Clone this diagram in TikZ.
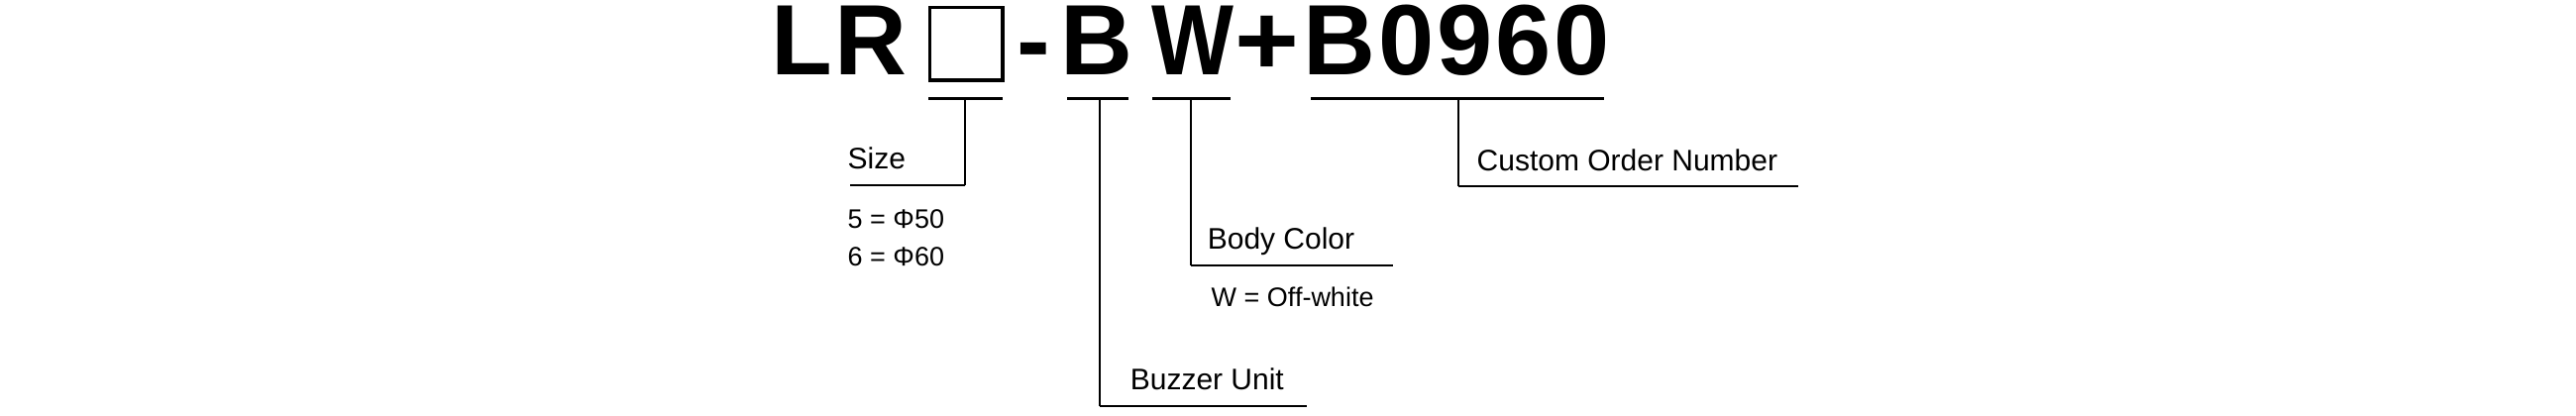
\documentclass[tikz,border=0pt]{standalone}
\usepackage{fontspec}
\setmainfont{Liberation Sans}
\newfontfamily\titlefont[LetterSpace=2.7]{Liberation Sans}
\begin{document}
\begin{tikzpicture}[x=1pt,y=-1pt,
  ttl/.style={inner sep=0pt,anchor=base west,font=\titlefont\bfseries\fontsize{101}{110}\selectfont},
  lbl/.style={inner sep=0pt,anchor=base west,font=\fontsize{30}{36}\selectfont},
  val/.style={inner sep=0pt,anchor=base west,font=\fontsize{27}{32}\selectfont},
  uline/.style={line width=2.5pt},
  vline/.style={line width=1.6pt},
  hline/.style={line width=2pt}]
\useasboundingbox (0,0) rectangle (2600,420);
% title
\node[ttl] (lr) at (778,76) {LR};
\node[draw,line width=3.5pt,minimum width=73.5pt,minimum height=73.5pt,inner sep=0pt,anchor=north west] (bx) at (936.75,5.75) {};
\node[ttl] (hy) at (1026.5,76) {-};
\node[ttl] (bb) at (1070.6,76) {B};
\node[ttl] (ww) at (1162.5,76) {\scalebox{0.87}[1]{W}};
\node[ttl] (pl) at (1246,76) {\scalebox{1.1}[1]{+}};
\node[ttl] (num) at (1315.6,76) {B0960};
% underline coordinates
\coordinate (u1a) at (937,99.3); \coordinate (u1b) at (1012,99.3); \coordinate (u1m) at (974,99.3);
\coordinate (u2a) at (1077,99.3); \coordinate (u2b) at (1139,99.3); \coordinate (u2m) at (1110,99.3);
\coordinate (u3a) at (1163,99.3); \coordinate (u3b) at (1242,99.3); \coordinate (u3m) at (1202,99.3);
\coordinate (u4a) at (1323,99.3); \coordinate (u4b) at (1619,99.3); \coordinate (u4m) at (1472,99.3);
\draw[uline] (u1a) -- (u1b);
\draw[uline] (u2a) -- (u2b);
\draw[uline] (u3a) -- (u3b);
\draw[uline] (u4a) -- (u4b);
% label ends
\coordinate (e1) at (858,187);
\coordinate (e2) at (1319,410);
\coordinate (e3) at (1406,268);
\coordinate (e4) at (1815,188);
\draw[vline] (u1m) -- (u1m |- e1);
\draw[hline] (u1m |- e1) -- (e1);
\draw[vline] (u2m) -- (u2m |- e2);
\draw[hline] (u2m |- e2) -- (e2);
\draw[vline] (u3m) -- (u3m |- e3);
\draw[hline] (u3m |- e3) -- (e3);
\draw[vline] (u4m) -- (u4m |- e4);
\draw[hline] (u4m |- e4) -- (e4);
% labels
\node[lbl] (size) at (855.5,170) {Size};
\node[val] (s5) at (855.5,230) {5 = Φ50};
\node[val] (s6) at (855.5,268) {6 = Φ60};
\node[lbl] (body) at (1218.6,251) {Body Color};
\node[val] (bw) at (1222.5,309) {W = Off-white};
\node[lbl] (buzz) at (1140.6,393) {Buzzer Unit};
\node[lbl] (cust) at (1490.5,172) {Custom Order Number};
\end{tikzpicture}
\end{document}
